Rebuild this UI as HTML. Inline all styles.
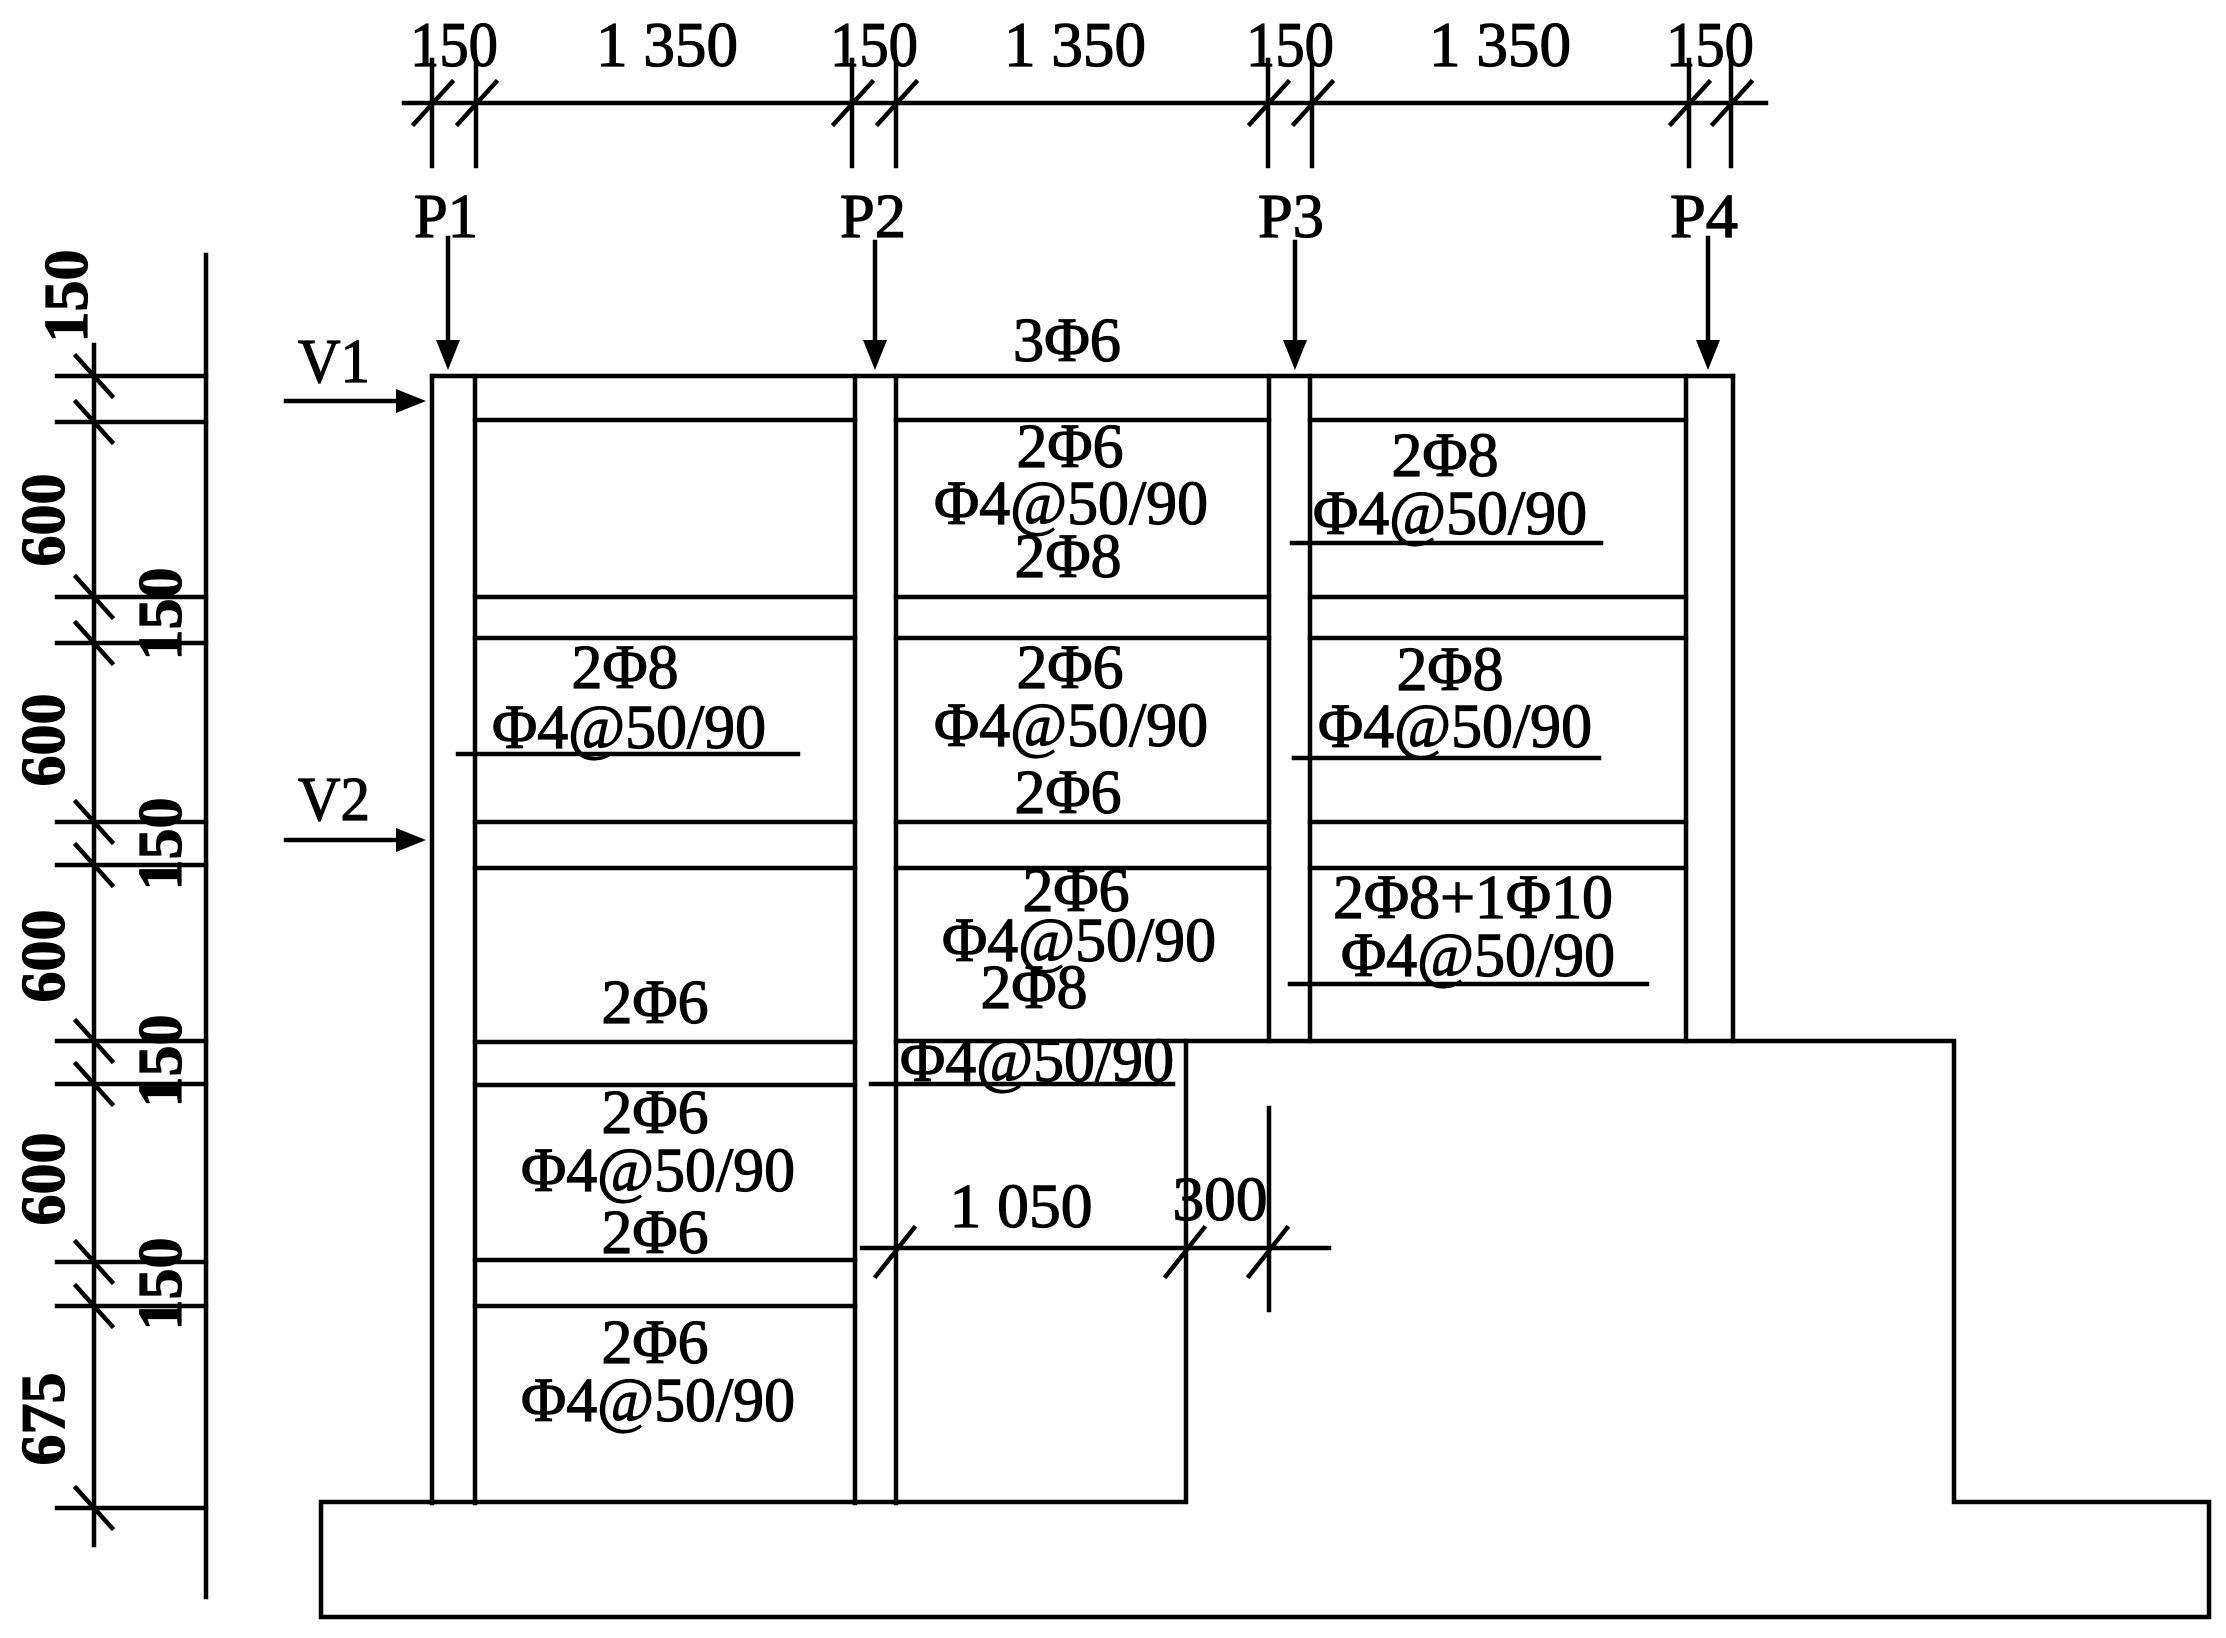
<!DOCTYPE html>
<html><head><meta charset="utf-8"><style>
html,body{margin:0;padding:0;background:#fff;}
svg{display:block;}
text{font-family:"Liberation Serif","DejaVu Serif",serif;fill:#000;stroke:#000;stroke-width:1.2;}
</style></head><body>
<svg width="2226" height="1638" viewBox="0 0 2226 1638" xmlns="http://www.w3.org/2000/svg">
<g stroke="#000" stroke-width="4.5" fill="none" stroke-linecap="square">
<line x1="404" y1="103" x2="1766" y2="103"/>
<g>
<line x1="432" y1="60" x2="432" y2="166"/><line x1="476" y1="60" x2="476" y2="166"/>
<line x1="852" y1="60" x2="852" y2="166"/><line x1="896" y1="60" x2="896" y2="166"/>
<line x1="1268" y1="60" x2="1268" y2="166"/><line x1="1312" y1="60" x2="1312" y2="166"/>
<line x1="1689" y1="60" x2="1689" y2="166"/><line x1="1731" y1="60" x2="1731" y2="166"/>
<line x1="414" y1="124" x2="452" y2="82"/><line x1="458" y1="124" x2="496" y2="82"/>
<line x1="834" y1="124" x2="872" y2="82"/><line x1="878" y1="124" x2="916" y2="82"/>
<line x1="1250" y1="124" x2="1288" y2="82"/><line x1="1294" y1="124" x2="1332" y2="82"/>
<line x1="1671" y1="124" x2="1709" y2="82"/><line x1="1713" y1="124" x2="1751" y2="82"/>
</g>
<line x1="448" y1="238" x2="448" y2="345"/><line x1="875" y1="242" x2="875" y2="345"/>
<line x1="1295" y1="242" x2="1295" y2="345"/><line x1="1708" y1="238" x2="1708" y2="345"/>
<line x1="286" y1="401" x2="400" y2="401"/><line x1="286" y1="840" x2="400" y2="840"/>
<line x1="432" y1="376" x2="1733" y2="376"/>
<line x1="432" y1="376" x2="432" y2="1503"/><line x1="475" y1="376" x2="475" y2="1503"/>
<line x1="855" y1="376" x2="855" y2="1503"/><line x1="896" y1="376" x2="896" y2="1503"/>
<line x1="1269" y1="376" x2="1269" y2="1041"/><line x1="1310" y1="376" x2="1310" y2="1041"/>
<line x1="1686" y1="376" x2="1686" y2="1041"/><line x1="1733" y1="376" x2="1733" y2="1041"/>
<line x1="475" y1="420" x2="855" y2="420"/><line x1="896" y1="420" x2="1269" y2="420"/><line x1="1310" y1="420" x2="1686" y2="420"/>
<line x1="475" y1="597" x2="855" y2="597"/><line x1="896" y1="597" x2="1269" y2="597"/><line x1="1310" y1="597" x2="1686" y2="597"/>
<line x1="475" y1="638" x2="855" y2="638"/><line x1="896" y1="638" x2="1269" y2="638"/><line x1="1310" y1="638" x2="1686" y2="638"/>
<line x1="475" y1="822" x2="855" y2="822"/><line x1="896" y1="822" x2="1269" y2="822"/><line x1="1310" y1="822" x2="1686" y2="822"/>
<line x1="475" y1="868" x2="855" y2="868"/><line x1="896" y1="868" x2="1269" y2="868"/><line x1="1310" y1="868" x2="1686" y2="868"/>
<line x1="475" y1="1042" x2="855" y2="1042"/><line x1="475" y1="1085" x2="855" y2="1085"/>
<line x1="475" y1="1260" x2="855" y2="1260"/><line x1="475" y1="1306" x2="855" y2="1306"/>
<line x1="896" y1="1041" x2="1186" y2="1041"/>
<line x1="458" y1="754" x2="798" y2="754"/>
<line x1="871" y1="1084" x2="1173" y2="1084"/>
<line x1="1292" y1="543" x2="1601" y2="543"/>
<line x1="1294" y1="758" x2="1599" y2="758"/>
<line x1="1290" y1="984" x2="1647" y2="984"/>
<polyline points="1186,1502 1186,1041 1954,1041 1954,1502 2209,1502 2209,1617 321,1617 321,1502 1186,1502"/>
<line x1="862" y1="1248" x2="1329" y2="1248"/>
<line x1="1269" y1="1108" x2="1269" y2="1310"/>
<line x1="876" y1="1276" x2="914" y2="1228"/>
<line x1="1166" y1="1276" x2="1204" y2="1228"/>
<line x1="1249" y1="1276" x2="1287" y2="1228"/>
<line x1="206" y1="255" x2="206" y2="1597"/>
<line x1="94" y1="345" x2="94" y2="1545"/>
<g>
<line x1="57" y1="376" x2="206" y2="376"/><line x1="57" y1="422" x2="206" y2="422"/>
<line x1="57" y1="597" x2="206" y2="597"/><line x1="57" y1="643" x2="206" y2="643"/>
<line x1="57" y1="822" x2="206" y2="822"/><line x1="57" y1="865" x2="206" y2="865"/>
<line x1="57" y1="1041" x2="206" y2="1041"/><line x1="57" y1="1084" x2="206" y2="1084"/>
<line x1="57" y1="1262" x2="206" y2="1262"/><line x1="57" y1="1306" x2="206" y2="1306"/>
<line x1="57" y1="1508" x2="206" y2="1508"/>
<line x1="76" y1="356" x2="112" y2="396"/><line x1="76" y1="402" x2="112" y2="442"/>
<line x1="76" y1="577" x2="112" y2="617"/><line x1="76" y1="623" x2="112" y2="663"/>
<line x1="76" y1="802" x2="112" y2="842"/><line x1="76" y1="845" x2="112" y2="885"/>
<line x1="76" y1="1021" x2="112" y2="1061"/><line x1="76" y1="1064" x2="112" y2="1104"/>
<line x1="76" y1="1242" x2="112" y2="1282"/><line x1="76" y1="1286" x2="112" y2="1326"/>
<line x1="76" y1="1488" x2="112" y2="1528"/>
</g>
</g>
<g fill="#000">
<polygon points="436,340 460,340 448,370"/><polygon points="863,340 887,340 875,370"/>
<polygon points="1283,340 1307,340 1295,370"/><polygon points="1696,340 1720,340 1708,370"/>
<polygon points="396,389 396,413 426,401"/><polygon points="396,828 396,852 426,840"/>
</g>
<g font-size="64" text-anchor="middle">
<text x="454" y="66" textLength="88" lengthAdjust="spacingAndGlyphs">150</text><text x="667" y="66" textLength="142" lengthAdjust="spacingAndGlyphs">1 350</text>
<text x="874" y="66" textLength="88" lengthAdjust="spacingAndGlyphs">150</text><text x="1075" y="66" textLength="142" lengthAdjust="spacingAndGlyphs">1 350</text>
<text x="1290" y="66" textLength="88" lengthAdjust="spacingAndGlyphs">150</text><text x="1500" y="66" textLength="142" lengthAdjust="spacingAndGlyphs">1 350</text>
<text x="1710" y="66" textLength="88" lengthAdjust="spacingAndGlyphs">150</text>
</g>
<g font-size="62" text-anchor="middle">
<text x="446" y="237" textLength="64" lengthAdjust="spacingAndGlyphs">P1</text><text x="873" y="237" textLength="66" lengthAdjust="spacingAndGlyphs">P2</text>
<text x="1291" y="237" textLength="66" lengthAdjust="spacingAndGlyphs">P3</text><text x="1704" y="237" textLength="68" lengthAdjust="spacingAndGlyphs">P4</text>
<text x="334" y="382" textLength="72" lengthAdjust="spacingAndGlyphs">V1</text><text x="334" y="820" textLength="72" lengthAdjust="spacingAndGlyphs">V2</text>
<text x="1021" y="1227" textLength="143" lengthAdjust="spacingAndGlyphs">1 050</text><text x="1220" y="1220" textLength="95" lengthAdjust="spacingAndGlyphs">300</text>
</g>
<g font-size="62" font-weight="bold" text-anchor="middle">
<text transform="translate(87,296) rotate(-90)">150</text>
<text transform="translate(64,520) rotate(-90)">600</text>
<text transform="translate(181,614) rotate(-90)">150</text>
<text transform="translate(64,740) rotate(-90)">600</text>
<text transform="translate(181,844) rotate(-90)">150</text>
<text transform="translate(64,956) rotate(-90)">600</text>
<text transform="translate(181,1061) rotate(-90)">150</text>
<text transform="translate(64,1179) rotate(-90)">600</text>
<text transform="translate(181,1284) rotate(-90)">150</text>
<text transform="translate(64,1419) rotate(-90)">675</text>
</g>
<g font-size="62" text-anchor="middle">
<text x="625" y="688" textLength="107" lengthAdjust="spacingAndGlyphs">2Φ8</text>
<text x="629" y="748" textLength="274" lengthAdjust="spacingAndGlyphs">Φ4@50/90</text>
<text x="655" y="1023" textLength="107" lengthAdjust="spacingAndGlyphs">2Φ6</text>
<text x="655" y="1133" textLength="107" lengthAdjust="spacingAndGlyphs">2Φ6</text>
<text x="658" y="1191" textLength="274" lengthAdjust="spacingAndGlyphs">Φ4@50/90</text>
<text x="655" y="1253" textLength="107" lengthAdjust="spacingAndGlyphs">2Φ6</text>
<text x="655" y="1363" textLength="107" lengthAdjust="spacingAndGlyphs">2Φ6</text>
<text x="658" y="1421" textLength="274" lengthAdjust="spacingAndGlyphs">Φ4@50/90</text>

<text x="1067" y="361" textLength="108" lengthAdjust="spacingAndGlyphs">3Φ6</text>
<text x="1070" y="467" textLength="107" lengthAdjust="spacingAndGlyphs">2Φ6</text>
<text x="1071" y="524" textLength="274" lengthAdjust="spacingAndGlyphs">Φ4@50/90</text>
<text x="1068" y="577" textLength="107" lengthAdjust="spacingAndGlyphs">2Φ8</text>
<text x="1070" y="688" textLength="107" lengthAdjust="spacingAndGlyphs">2Φ6</text>
<text x="1071" y="746" textLength="274" lengthAdjust="spacingAndGlyphs">Φ4@50/90</text>
<text x="1068" y="813" textLength="107" lengthAdjust="spacingAndGlyphs">2Φ6</text>
<text x="1076" y="911" textLength="107" lengthAdjust="spacingAndGlyphs">2Φ6</text>
<text x="1079" y="961" textLength="274" lengthAdjust="spacingAndGlyphs">Φ4@50/90</text>
<text x="1034" y="1008" textLength="107" lengthAdjust="spacingAndGlyphs">2Φ8</text>
<text x="1037" y="1081" textLength="274" lengthAdjust="spacingAndGlyphs">Φ4@50/90</text>

<text x="1445" y="476" textLength="107" lengthAdjust="spacingAndGlyphs">2Φ8</text>
<text x="1450" y="534" textLength="274" lengthAdjust="spacingAndGlyphs">Φ4@50/90</text>
<text x="1450" y="690" textLength="107" lengthAdjust="spacingAndGlyphs">2Φ8</text>
<text x="1455" y="747" textLength="274" lengthAdjust="spacingAndGlyphs">Φ4@50/90</text>
<text x="1473" y="918" textLength="280" lengthAdjust="spacingAndGlyphs">2Φ8+1Φ10</text>
<text x="1478" y="976" textLength="274" lengthAdjust="spacingAndGlyphs">Φ4@50/90</text>
</g>
</svg>
</body></html>
